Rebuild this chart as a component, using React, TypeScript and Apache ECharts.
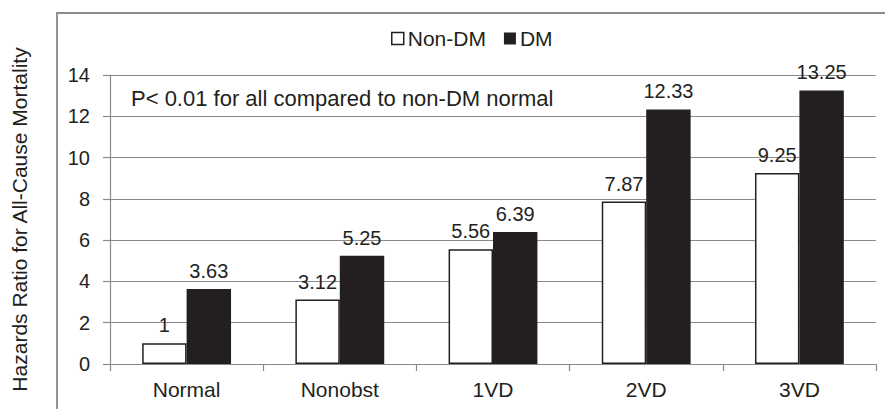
import React, { useEffect, useRef } from "react";
import * as echarts from "echarts";

const categories = ["Normal", "Nonobst", "1VD", "2VD", "3VD"];
const nonDM = [1, 3.12, 5.56, 7.87, 9.25];
const dm = [3.63, 5.25, 6.39, 12.33, 13.25];
const yTicks = [0, 2, 4, 6, 8, 10, 12, 14];
const seriesNames = ["Non-DM", "DM"];
const note = "P< 0.01 for all compared to non-DM normal";
const yTitle = "Hazards Ratio for All-Cause Mortality";

const FONT = "'Liberation Sans', Arial, sans-serif";
const TXT = "#231f20";
const GRAY = "#8a8a8a";

export default function App() {
  const ref = useRef<HTMLDivElement>(null);
  useEffect(() => {
    if (!ref.current) return;
    const chart = echarts.init(ref.current, undefined, { renderer: "svg" });
    const labelStyle = {
      show: true,
      position: "top" as const,
      distance: 8,
      color: TXT,
      fontSize: 20,
      fontFamily: FONT,
    };
    chart.setOption({
      animation: false,
      backgroundColor: "#ffffff",
      textStyle: { fontFamily: FONT, color: TXT },
      grid: { left: 110, right: 9, top: 75, bottom: 45, containLabel: false, outerBoundsMode: "none" },
      legend: {
        data: [
          { name: seriesNames[0], icon: "rect", itemStyle: { color: "#ffffff", borderColor: TXT, borderWidth: 1.5 } },
          { name: seriesNames[1], icon: "rect", itemStyle: { color: TXT } },
        ],
        left: 386,
        top: 23,
        itemWidth: 12,
        itemHeight: 12,
        itemGap: 18,
        textStyle: { fontSize: 21, fontFamily: FONT, color: TXT, padding: [0, 0, 0, -1] },
      },
      xAxis: {
        type: "category",
        data: categories,
        axisLine: { lineStyle: { color: GRAY, width: 1.2 } },
        axisTick: { show: true, alignWithLabel: false, length: 7, lineStyle: { color: GRAY, width: 1.2 } },
        axisLabel: { fontSize: 21, fontFamily: FONT, color: TXT, margin: 15 },
      },
      yAxis: {
        type: "value",
        min: yTicks[0],
        max: yTicks[yTicks.length - 1],
        interval: 2,
        name: yTitle,
        nameLocation: "middle",
        nameRotate: 90,
        nameGap: 80,
        nameTextStyle: { fontSize: 21, fontFamily: FONT, color: TXT },
        axisLine: { show: true, lineStyle: { color: GRAY, width: 1.2 } },
        axisTick: { show: true, length: 7, lineStyle: { color: GRAY, width: 1.2 } },
        axisLabel: { fontSize: 20, fontFamily: FONT, color: TXT, margin: 20 },
        splitLine: { show: true, lineStyle: { color: GRAY, width: 1.2 } },
      },
      graphic: [
        {
          type: "rect",
          shape: { x: 57, y: 13, width: 900, height: 500 },
          style: { fill: "none", stroke: GRAY, lineWidth: 1.8 },
          silent: true,
          z: 100,
        },
        {
          type: "text",
          x: 131,
          y: 98,
          style: { text: note, fontSize: 22, fontFamily: FONT, fill: TXT, textVerticalAlign: "middle" },
          z: 100,
        },
      ],
      series: [
        {
          name: seriesNames[0],
          type: "bar",
          data: nonDM,
          barGap: "0%",
          barCategoryGap: "42%",
          itemStyle: { color: "#ffffff", borderColor: TXT, borderWidth: 1.5 },
          label: labelStyle,
        },
        {
          name: seriesNames[1],
          type: "bar",
          data: dm,
          itemStyle: { color: TXT },
          label: labelStyle,
        },
      ],
    });
    return () => chart.dispose();
  }, []);
  return (
    <div
      ref={ref}
      style={{ position: "fixed", left: 0, top: 0, width: 885, height: 409 }}
    />
  );
}
